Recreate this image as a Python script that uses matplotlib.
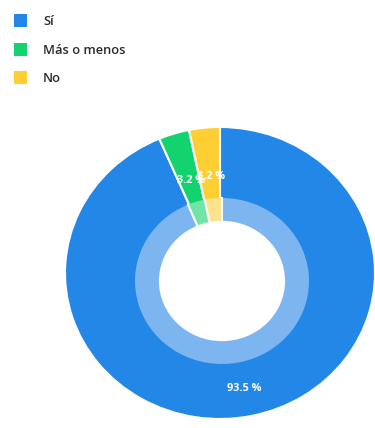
import matplotlib
matplotlib.use("Agg")
import matplotlib.pyplot as plt
from matplotlib.patches import Ellipse
import numpy as np

categories = ["Sí", "Más o menos", "No"]
values = [93.5, 3.2, 3.2]
labels = ["93.5 %", "3.2 %", "3.2 %"]
colors = ["#2287E6", "#13D36E", "#FDCF33"]
light_colors = ["#7DB5F0", "#72E4A8", "#FEE38C"]

W, H = 375, 428
fig = plt.figure(figsize=(W / 100, H / 100), dpi=100)
fig.patch.set_facecolor("white")

def axes_for(cx, cy, rx, ry):
    ax = fig.add_axes([(cx - rx) / W, 1 - (cy + ry) / H, 2 * rx / W, 2 * ry / H])
    ax.set_axis_off()
    return ax

total = sum(values)
cum = np.cumsum([0] + values)

# outer pie
ax1 = axes_for(220, 273, 155, 146)
w1, _ = ax1.pie(values, colors=colors, startangle=90, counterclock=False, radius=1,
                wedgeprops=dict(edgecolor="white", linewidth=1.5))
for w in w1:
    w.set_clip_on(False)
ax1.set_xlim(-1, 1); ax1.set_ylim(-1, 1); ax1.set_aspect("auto")

# inner light ring
ax2 = axes_for(222, 281, 87, 83)
w2, _ = ax2.pie(values, colors=light_colors, startangle=90, counterclock=False, radius=1,
                wedgeprops=dict(linewidth=0, width=0.28))
for w in w2:
    w.set_clip_on(False)
for c in cum[:-1]:
    a = c / total * 2 * np.pi
    ax2.plot([0.7 * np.sin(a), 1.0 * np.sin(a)], [0.7 * np.cos(a), 1.0 * np.cos(a)],
             color="white", lw=1.5, clip_on=False, zorder=4)
ax2.add_patch(Ellipse((0, 0), 2 * 0.725, 2 * 0.725, facecolor="white", edgecolor="none", zorder=5))
ax2.set_xlim(-1, 1); ax2.set_ylim(-1, 1); ax2.set_aspect("auto")

# data labels (placed in pixel coords of the inner-ring centre)
ax3 = fig.add_axes([0, 0, 1, 1])
ax3.set_xlim(0, W); ax3.set_ylim(H, 0); ax3.set_axis_off()
radii = [110, 105, 105]
for v, c0, lab, r in zip(values, cum[:-1], labels, radii):
    ang = (c0 + v / 2) / total * 2 * np.pi
    x = 222 + r * np.sin(ang)
    y = 281 - r * np.cos(ang)
    ax3.text(x, y, lab, color="white", fontsize=7.8, fontweight="bold",
             ha="center", va="center", family=["Open Sans", "DejaVu Sans"])

# legend
leg_y = [21, 50, 78]
for cat, col, y in zip(categories, colors, leg_y):
    ax3.add_patch(plt.Rectangle((14, y - 7), 13, 13, color=col, lw=0))
    ax3.text(43, y, cat, fontsize=9.3, color="#2b2b2b", ha="left", va="center",
             fontweight="semibold", family=["Open Sans", "DejaVu Sans"])

fig.savefig("out.png", dpi=100, facecolor="white")
